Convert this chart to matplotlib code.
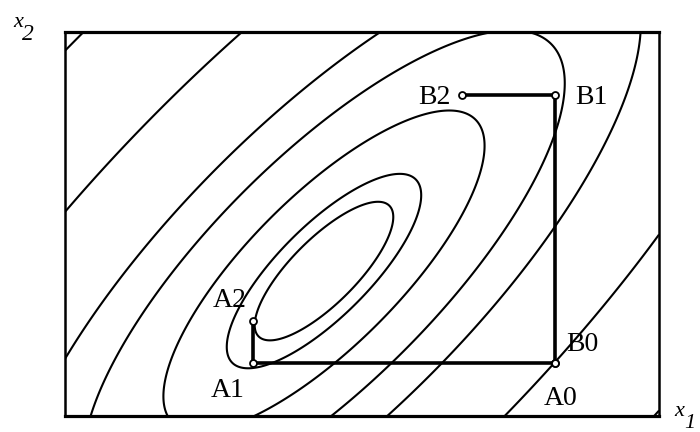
import matplotlib.pyplot as plt
import numpy as np

plt.rcParams['font.family'] = ['Liberation Serif', 'DejaVu Serif']

# objective f = dx^2 - 2*k*dx*dy + dy^2 around its minimum
center = [4.36, 2.44]
coupling = 0.78
levels = [0.533, 1.049, 2.862, 6.434, 11.14, 26.78, 58.0]

# two coordinate-descent runs, each starting from the same corner
path_a_x = [8.25, 3.16, 3.16]
path_a_y = [0.89, 0.89, 1.60]
path_b_x = [8.25, 8.25, 6.68]
path_b_y = [0.89, 5.40, 5.40]
labels_a = ['A0', 'A1', 'A2']
labels_b = ['B0', 'B1', 'B2']
# label offsets in points (to the text baseline)
offsets_a = [(4, -30), (-18, -24.5), (-16.5, 10)]
offsets_b = [(20, 8.6), (26, -6.5), (-20, -6.5)]

x1_lim = (0, 10)
x2_lim = (0, 6.465)

fig = plt.figure(figsize=(7, 4.32), dpi=100)
ax = fig.add_axes([65 / 700, 16 / 432, 594 / 700, 384 / 432])

gx, gy = np.meshgrid(np.linspace(*x1_lim, 500), np.linspace(*x2_lim, 330))
dx = gx - center[0]
dy = gy - center[1]
f = dx ** 2 - 2 * coupling * dx * dy + dy ** 2
ax.contour(gx, gy, f, levels=levels, colors='black', linewidths=1.5)

for xs, ys in [(path_a_x, path_a_y), (path_b_x, path_b_y)]:
    ax.plot(xs, ys, color='black', linewidth=2.6, solid_capstyle='butt', zorder=3)
    ax.plot(xs, ys, linestyle='none', marker='o', markersize=5,
            markerfacecolor='white', markeredgecolor='black',
            markeredgewidth=1.3, zorder=4)

for xs, ys, names, offs in [(path_a_x, path_a_y, labels_a, offsets_a),
                            (path_b_x, path_b_y, labels_b, offsets_b)]:
    for x, y, name, off in zip(xs, ys, names, offs):
        ax.annotate(name, (x, y), xytext=off, textcoords='offset points',
                    ha='center', va='baseline', fontsize=20, zorder=5)

ax.set_xlim(*x1_lim)
ax.set_ylim(*x2_lim)
ax.set_xticks([])
ax.set_yticks([])
for side in ['left', 'right']:
    ax.spines[side].set_linewidth(1.8)
for side in ['top', 'bottom']:
    ax.spines[side].set_linewidth(2.3)

# axis names
fig.text(13 / 700, 1 - 27 / 432, 'x', fontsize=16, style='italic', va='baseline')
fig.text(22 / 700, 1 - 40 / 432, '2', fontsize=17, style='italic', va='baseline')
fig.text(674 / 700, 1 - 416 / 432, 'x', fontsize=16, style='italic', va='baseline')
fig.text(684 / 700, 1 - 428 / 432, '1', fontsize=16, style='italic', va='baseline')

fig.savefig('out.png', dpi=100)
